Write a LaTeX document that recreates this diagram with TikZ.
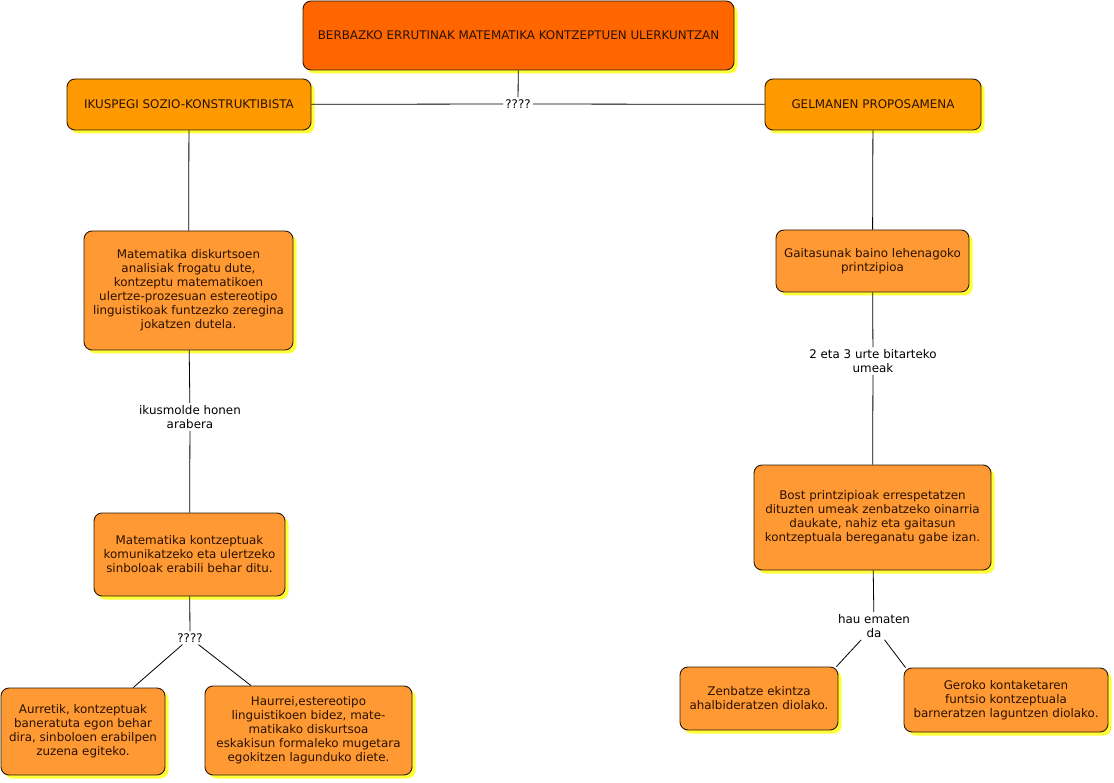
\documentclass[tikz,border=0pt]{standalone}
\usepackage{fontspec}
\setmainfont{DejaVu Sans}
\usetikzlibrary{shadows}
\definecolor{topc}{HTML}{FF6600}
\definecolor{midc}{HTML}{FF9900}
\definecolor{lowc}{HTML}{FF9933}
\definecolor{edgec}{HTML}{2A1A0A}
\definecolor{txtc}{HTML}{2A1200}
\definecolor{shadc}{HTML}{FFFF22}
\tikzset{
  concept/.style={draw=edgec, line width=0.9pt, rounded corners=8pt, align=center,
    text=txtc, inner sep=2pt,
    font=\fontsize{11.9}{14}\selectfont,
    drop shadow={shadow xshift=3.5pt, shadow yshift=-3.5pt, fill=shadc, opacity=0.9}},
  lbl/.style={fill=white, align=center, inner sep=2pt, text=black,
    font=\fontsize{11.9}{14}\selectfont},
  link/.style={draw=black, line width=0.8pt}
}
\begin{document}
\begin{tikzpicture}[x=1pt,y=-1pt]
\useasboundingbox[fill=white] (0,0) rectangle (1114,783);
% concepts
\node[concept, fill=topc, minimum width=431pt, minimum height=69pt] (top) at (518.5,35.5) {BERBAZKO ERRUTINAK MATEMATIKA KONTZEPTUEN ULERKUNTZAN};
\node[concept, fill=midc, minimum width=244pt, minimum height=51pt] (ikus) at (189,104.5) {IKUSPEGI SOZIO-KONSTRUKTIBISTA};
\node[concept, fill=midc, minimum width=216pt, minimum height=51pt] (gel) at (873,104.5) {GELMANEN PROPOSAMENA};
\node[concept, fill=lowc, minimum width=209pt, minimum height=119pt] (mat1) at (188.5,290.5) {Matematika diskurtsoen\\analisiak frogatu dute,\\kontzeptu matematikoen\\ulertze-prozesuan estereotipo\\linguistikoak funtzezko zeregina\\jokatzen dutela.};
\node[concept, fill=lowc, minimum width=191pt, minimum height=83pt] (mat2) at (189.5,554.5) {Matematika kontzeptuak\\komunikatzeko eta ulertzeko\\sinboloak erabili behar ditu.};
\node[concept, fill=lowc, minimum width=164pt, minimum height=87pt] (aur) at (83,731.5) {Aurretik, kontzeptuak\\baneratuta egon behar\\dira, sinboloen erabilpen\\zuzena egiteko.};
\node[concept, fill=lowc, minimum width=207pt, minimum height=89pt] (hau) at (308.5,730.5) {Haurrei,estereotipo\\linguistikoen bidez, mate-\\matikako diskurtsoa\\eskakisun formaleko mugetara\\egokitzen lagunduko diete.};
\node[concept, fill=lowc, minimum width=193pt, minimum height=62pt] (gai) at (872.5,261) {Gaitasunak baino lehenagoko\\printzipioa};
\node[concept, fill=lowc, minimum width=237pt, minimum height=105pt] (bost) at (872.5,517.5) {Bost printzipioak errespetatzen\\dituzten umeak zenbatzeko oinarria\\daukate, nahiz eta gaitasun\\kontzeptuala bereganatu gabe izan.};
\node[concept, fill=lowc, minimum width=158pt, minimum height=63pt] (zen) at (759,698.5) {Zenbatze ekintza\\ahalbideratzen diolako.};
\node[concept, fill=lowc, minimum width=204pt, minimum height=64pt] (ger) at (1006,700) {Geroko kontaketaren\\funtsio kontzeptuala\\barneratzen laguntzen diolako.};
% linking phrases
\node[lbl] (q1) at (518,104) {????};
\node[lbl] (ikl) at (190,417) {ikusmolde honen\\arabera};
\node[lbl] (q2) at (190,638) {????};
\node[lbl] (urte) at (873,361) {2 eta 3 urte bitarteko\\umeak};
\node[lbl] (hem) at (874,626) {hau ematen\\da};
% connectors
\draw[link] (top) -- (q1);
\draw[link] (ikus) -- (q1);
\draw[link] (q1) -- (gel);
\draw[link] (ikus) -- (mat1);
\draw[link] (mat1) -- (ikl);
\draw[link] (ikl) -- (mat2);
\draw[link] (mat2) -- (q2);
\draw[link] (q2) -- (aur);
\draw[link] (q2) -- (hau);
\draw[link] (gel) -- (gai);
\draw[link] (gai) -- (urte);
\draw[link] (urte) -- (bost);
\draw[link] (bost) -- (hem);
\draw[link] (hem) -- ([xshift=-2pt]zen.north east);
\draw[link] (hem) -- ([xshift=2pt]ger.north west);
\end{tikzpicture}
\end{document}
